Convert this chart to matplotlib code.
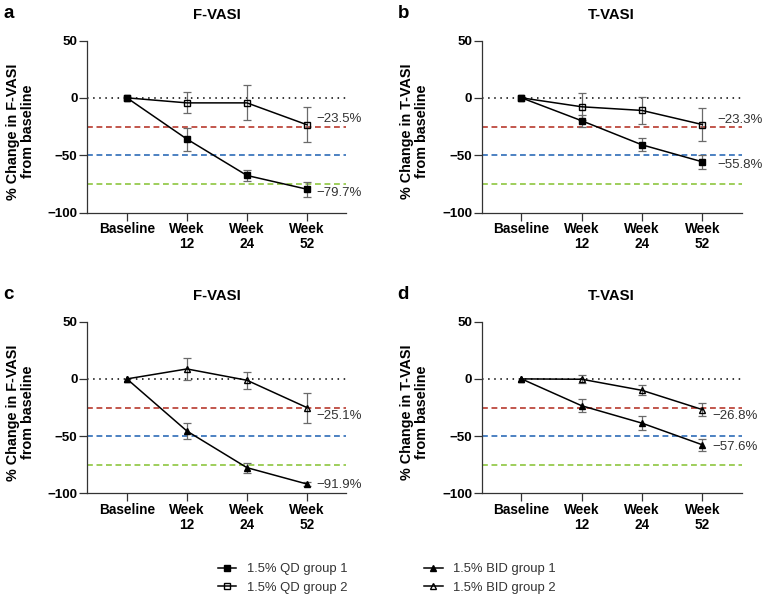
import numpy as np
import matplotlib
matplotlib.use("Agg")
import matplotlib.pyplot as plt
from matplotlib.lines import Line2D

plt.rcParams['font.family'] = ['Liberation Sans', 'DejaVu Sans']

# ---------------- data ----------------
timepoints = ["Baseline", "Week\n12", "Week\n24", "Week\n52"]
yticks = [50, 0, -50, -100]

# panel a: F-VASI, 1.5% QD
a_g1 = [0, -36.0, -67.7, -79.7]
a_g1_err = [0, 10.0, 5.0, 6.5]
a_g2 = [0, -4.4, -4.4, -23.5]
a_g2_err = [0, 9.2, 15.3, 15.3]

# panel b: T-VASI, 1.5% QD
b_g1 = [0, -20.0, -41.0, -55.8]
b_g1_err = [0, 5.0, 5.7, 6.2]
b_g2 = [0, -7.8, -11.0, -23.3]
b_g2_err = [0, 11.6, 11.4, 14.3]

# panel c: F-VASI, 1.5% BID
c_g1 = [0, -45.6, -77.6, -91.9]
c_g1_err = [0, 7.0, 4.5, 1.5]
c_g2 = [0, 8.7, -1.2, -25.1]
c_g2_err = [0, 9.5, 7.4, 13.2]

# panel d: T-VASI, 1.5% BID
d_g1 = [0, -23.5, -38.7, -57.6]
d_g1_err = [0, 5.8, 6.0, 5.5]
d_g2 = [0, -0.3, -10.0, -26.8]
d_g2_err = [0, 3.4, 4.5, 6.0]

thresholds = [-25, -50, -75]
threshold_colors = ["#b83a2e", "#2e6cb8", "#8dc63f"]

legend_labels = ["1.5% QD group 1", "1.5% QD group 2",
                 "1.5% BID group 1", "1.5% BID group 2"]

# ---------------- figure ----------------
W, H = 762, 595
fig = plt.figure(figsize=(W / 100, H / 100), dpi=100)

def px_axes(left, top, right, bottom):
    return fig.add_axes([left / W, 1 - bottom / H, (right - left) / W, (bottom - top) / H])

ax_a = px_axes(87.3, 40.5, 346, 212.5)
ax_b = px_axes(481.7, 40.5, 741.5, 212.5)
ax_c = px_axes(87.3, 321.7, 346, 493.3)
ax_d = px_axes(481.7, 321.7, 741.5, 493.3)

ERR_C = "#6a6a6a"
AX_C = "#333333"
x = np.arange(len(timepoints))

def draw_panel(ax, letter, title, ylab, g1, e1, g2, e2, marker, ann):
    ax.set_xlim(-0.66, 3.65)
    ax.set_ylim(-100, 50)
    # reference lines
    ax.axhline(0, color="black", lw=1.1, linestyle=(0, (1, 3)), zorder=1)
    for t, c in zip(thresholds, threshold_colors):
        ax.axhline(t, color=c, lw=1.2, dashes=(3.5, 2.2), zorder=1)
    # error bars (skip baseline)
    ax.errorbar(x[1:], g1[1:], yerr=e1[1:], fmt="none", ecolor=ERR_C,
                elinewidth=0.9, capsize=3.0, capthick=0.9, zorder=2)
    ax.errorbar(x[1:], g2[1:], yerr=e2[1:], fmt="none", ecolor=ERR_C,
                elinewidth=0.9, capsize=3.0, capthick=0.9, zorder=2)
    ms = 4.6 if marker == "s" else 5.0
    ax.plot(x, g1, color="black", lw=1.1, marker=marker, ms=ms,
            mfc="black", mec="black", zorder=3)
    ax.plot(x, g2, color="black", lw=1.1, marker=marker, ms=ms,
            mfc="none", mec="black", mew=1.0, zorder=3)
    # end annotations
    for vals, (dx, dy) in zip((g2, g1), ann):
        ax.annotate(f"\u2212{abs(vals[-1]):.1f}%", xy=(x[-1], vals[-1]),
                    xytext=(dx, dy), textcoords="offset points",
                    ha="left", va="center", fontsize=9.5, color="#333333")
    # axes styling
    for s in ("top", "right"):
        ax.spines[s].set_visible(False)
    for s in ("left", "bottom"):
        ax.spines[s].set_color(AX_C)
        ax.spines[s].set_linewidth(0.9)
    ax.set_xticks(x)
    ax.set_xticklabels(timepoints, fontsize=9.8, fontweight="bold", linespacing=1.1)
    ax.set_yticks(yticks)
    ax.set_yticklabels([("\u2212" + str(abs(v))) if v < 0 else str(v) for v in yticks],
                       fontsize=9.6, fontweight="bold")
    ax.tick_params(axis="both", length=5.5, width=0.9, color=AX_C, pad=1.5)
    ax.text(0.5, 1.148, title, transform=ax.transAxes, ha="center", va="center",
            fontsize=10.7, fontweight="bold")
    ax.text(-67 / 259, 0.47, ylab, transform=ax.transAxes, rotation=90,
            ha="center", va="center", fontsize=10.4, fontweight="bold",
            multialignment="center", linespacing=1.15)
    # panel letter
    bb = ax.get_position()
    fig.text(bb.x0 - 84 / W, bb.y1 + 27 / H, letter, fontsize=13.5, fontweight="bold",
             ha="left", va="center")

draw_panel(ax_a, "a", "F-VASI", "% Change in F-VASI\nfrom baseline",
           a_g1, a_g1_err, a_g2, a_g2_err, "s", [(6.5, 4.5), (6.5, -2.7)])
draw_panel(ax_b, "b", "T-VASI", "% Change in T-VASI\nfrom baseline",
           b_g1, b_g1_err, b_g2, b_g2_err, "s", [(10.8, 3.6), (10.8, -2.6)])
draw_panel(ax_c, "c", "F-VASI", "% Change in F-VASI\nfrom baseline",
           c_g1, c_g1_err, c_g2, c_g2_err, "^", [(7.0, -6.1), (7.0, -0.8)])
draw_panel(ax_d, "d", "T-VASI", "% Change in T-VASI\nfrom baseline",
           d_g1, d_g1_err, d_g2, d_g2_err, "^", [(7.0, -4.7), (7.0, -1.7)])

handles = [
    Line2D([], [], color="black", lw=1.1, marker="s", ms=4.6, mfc="black", mec="black"),
    Line2D([], [], color="black", lw=1.1, marker="s", ms=4.6, mfc="none", mec="black"),
    Line2D([], [], color="black", lw=1.1, marker="^", ms=5.0, mfc="black", mec="black"),
    Line2D([], [], color="black", lw=1.1, marker="^", ms=5.0, mfc="none", mec="black"),
]
leg = fig.legend(handles, legend_labels, ncol=2, loc="upper left",
                 bbox_to_anchor=(218 / W, 1 - 563 / H), frameon=False,
                 fontsize=9.4, handlelength=1.4, handletextpad=0.8,
                 columnspacing=5.9, labelspacing=0.5, borderpad=0,
                 borderaxespad=0)
for t in leg.get_texts():
    t.set_color("#333333")

fig.savefig("out.png", dpi=100)
